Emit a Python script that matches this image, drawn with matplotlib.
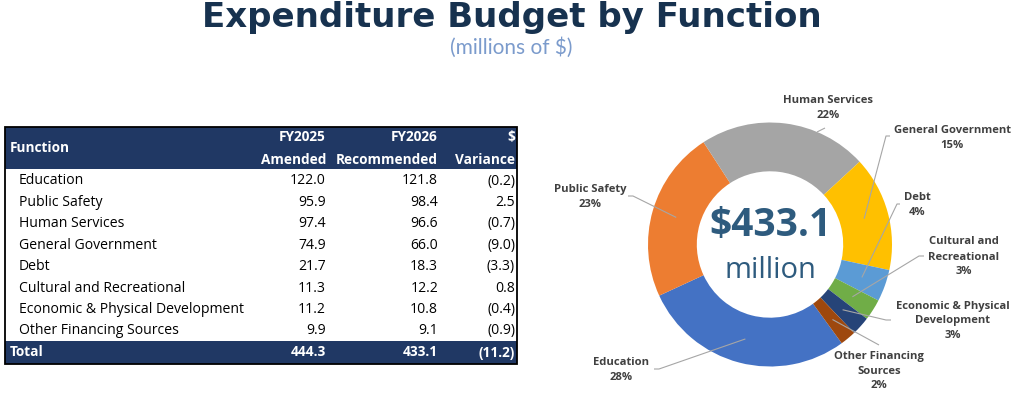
import matplotlib
matplotlib.use("Agg")
import matplotlib.pyplot as plt
import matplotlib.patches as mpatches
import numpy as np

# ---- data ----
functions = ["Education", "Public Safety", "Human Services", "General Government",
             "Debt", "Cultural and Recreational", "Economic & Physical Development",
             "Other Financing Sources"]
fy2025_amended = [122.0, 95.9, 97.4, 74.9, 21.7, 11.3, 11.2, 9.9]
fy2026_recommended = [121.8, 98.4, 96.6, 66.0, 18.3, 12.2, 10.8, 9.1]
variance = [-0.2, 2.5, -0.7, -9.0, -3.3, 0.8, -0.4, -0.9]
total_2025 = 444.3
total_2026 = 433.1
total_variance = -11.2

# donut labels (line-wrapped as in the chart) and the shares printed on it
donut_labels = ["Education", "Public Safety", "Human Services", "General Government",
                "Debt", "Cultural and\nRecreational", "Economic & Physical\nDevelopment",
                "Other Financing\nSources"]
donut_pcts = [28, 23, 22, 15, 4, 3, 3, 2]
slice_colors = ["#4472C4", "#ED7D31", "#A5A5A5", "#FFC000",
                "#5B9BD5", "#70AD47", "#264478", "#9E480E"]

W, H = 1017, 395
NAVY = "#203864"


def Y(py):
    # pixel row (from top) -> data y (from bottom)
    return H - py


def fmt(v):
    return "({:.1f})".format(-v) if v < 0 else "{:.1f}".format(v)


fig = plt.figure(figsize=(W / 100, H / 100), dpi=100)
ax = fig.add_axes([0, 0, 1, 1])

# ---- donut ----
cx, cy, R = 770, Y(244.5), 122
wedges, _ = ax.pie(fy2026_recommended, colors=slice_colors, startangle=-54,
                   counterclock=False, radius=R, center=(cx, cy),
                   wedgeprops=dict(width=R * 0.4, linewidth=0))
ax.set_xlim(0, W)
ax.set_ylim(0, H)
ax.axis("off")

ax.text(cx, Y(226), "$433.1", ha="center", va="center", fontsize=28,
        fontweight="bold", color="#2E5B7E", family="Open Sans")
ax.text(cx, Y(270), "million", ha="center", va="center", fontsize=21,
        color="#2E5B7E", family="Open Sans")

# label block centre and elbow (label side of the leader) in pixels
label_pos = [(621, 370), (590, 197), (828, 108), (952, 138), (917, 205),
             (964, 257), (953, 321), (879, 371)]
elbows = [[(654, 369), (659, 369)], [(628, 196), (633, 196)], [(825, 128)],
          [(890, 136), (886, 136)], [(900, 204), (897, 204)],
          [(924, 256), (919, 256)], [(891, 320), (886, 320)], [(879, 345)]]

for i, w in enumerate(wedges):
    mid = np.deg2rad((w.theta1 + w.theta2) / 2)
    if i == 2:
        mid, rr = np.deg2rad(67.3), 1.0
    else:
        rr = 0.8
    px = cx + rr * R * np.cos(mid)
    py = cy + rr * R * np.sin(mid)
    pts = [(x, Y(y)) for x, y in elbows[i]] + [(px, py)]
    xs, ys = zip(*pts)
    ax.plot(xs, ys, color="#A6A6A6", lw=0.8, solid_capstyle="butt")
    lx, ly = label_pos[i]
    ax.text(lx, Y(ly), "{}\n{}%".format(donut_labels[i], donut_pcts[i]),
            ha="center", va="center", fontsize=8.1, fontweight="bold",
            color="#404040", family="Open Sans", linespacing=1.5)

# ---- title ----
ax.text(512, Y(27), "Expenditure Budget by Function", ha="center", va="baseline",
        fontsize=24.5, fontweight="bold", color="#17324F", family="DejaVu Sans")
ax.text(511, Y(48), "(millions of $)", ha="center", va="center",
        fontsize=15, color="#7B9BCC", family="Lato")

# ---- table ----
x0, x1 = 5, 517
col_r = [326, 438, 515]
head_top, head_bot = 127, 169
tot_top, tot_bot = 341, 364
ax.add_patch(mpatches.Rectangle((x0, Y(head_bot)), x1 - x0, head_bot - head_top,
                                color=NAVY, lw=0))
ax.add_patch(mpatches.Rectangle((x0, Y(tot_bot)), x1 - x0, tot_bot - tot_top,
                                color=NAVY, lw=0))
ax.add_patch(mpatches.Rectangle((x0, Y(tot_bot)), x1 - x0, tot_bot - head_top,
                                fill=False, ec="black", lw=1.3))

hkw = dict(fontsize=9.8, fontweight="bold", color="white", family="Open Sans",
           va="center")
ax.text(10, Y(148), "Function", ha="left", **hkw)
for xr, t1, t2 in zip(col_r, ["FY2025", "FY2026", "$"],
                      ["Amended", "Recommended", "Variance"]):
    ax.text(xr, Y(137), t1, ha="right", **hkw)
    ax.text(xr, Y(160), t2, ha="right", **hkw)

rkw = dict(fontsize=10.1, color="black", family="Open Sans", va="center")
for i, name in enumerate(functions):
    yy = Y(181 + 21.4 * i)
    ax.text(19, yy, name, ha="left", **rkw)
    ax.text(col_r[0], yy, fmt(fy2025_amended[i]), ha="right", **rkw)
    ax.text(col_r[1], yy, fmt(fy2026_recommended[i]), ha="right", **rkw)
    ax.text(col_r[2], yy, fmt(variance[i]), ha="right", **rkw)

ax.text(10, Y(352.5), "Total", ha="left", **hkw)
for xr, v in zip(col_r, [total_2025, total_2026, total_variance]):
    ax.text(xr, Y(352.5), fmt(v), ha="right", **hkw)

fig.savefig("out.png", dpi=100)
